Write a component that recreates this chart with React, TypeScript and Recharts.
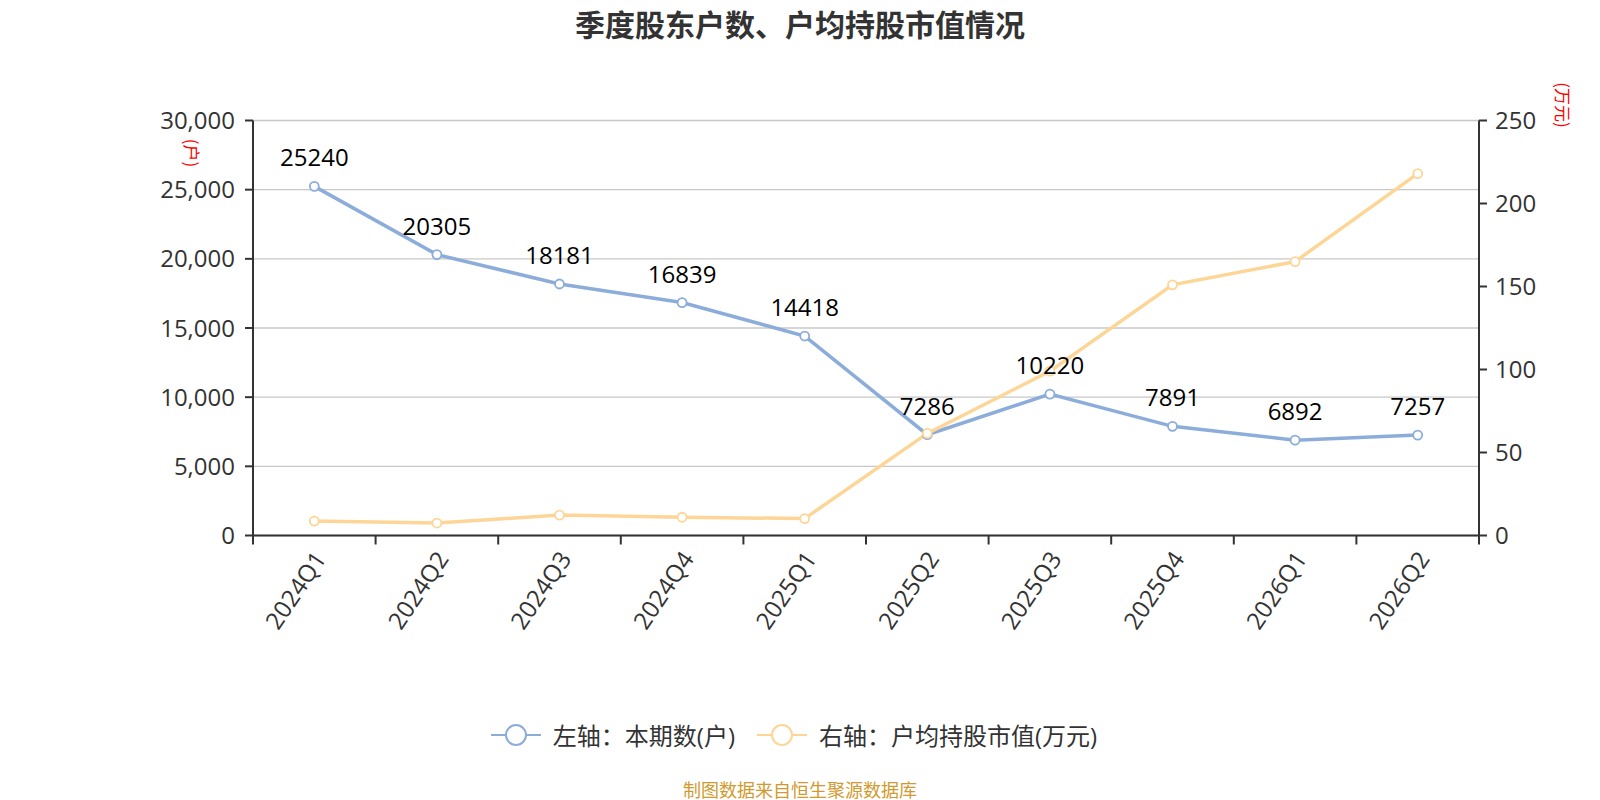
import {
  CartesianGrid,
  LabelList,
  Legend,
  Line,
  LineChart,
  XAxis,
  YAxis,
} from "recharts";

const quarters = [
  "2024Q1",
  "2024Q2",
  "2024Q3",
  "2024Q4",
  "2025Q1",
  "2025Q2",
  "2025Q3",
  "2025Q4",
  "2026Q1",
  "2026Q2",
];
const holders = [25240, 20305, 18181, 16839, 14418, 7286, 10220, 7891, 6892, 7257];
const avgValue = [8.7, 7.5, 12.3, 11.0, 10.2, 61.5, 99, 151, 165, 218];
const leftTicks = [0, 5000, 10000, 15000, 20000, 25000, 30000];
const rightTicks = [0, 50, 100, 150, 200, 250];
const seriesNames = ["左轴：本期数(户)", "右轴：户均持股市值(万元)"];

const BLUE = "#8cadda";
const ORANGE = "#fdd697";
const AXIS = "#333";
const FONT = "'Open Sans', 'Noto Sans CJK SC', sans-serif";
const CJK = "'Noto Sans CJK SC', sans-serif";

// plot box: x 253..1479, y 120.5..535.5
const PLOT_W = 1479 - 253;
const BAND = PLOT_W / quarters.length;

const data = quarters.map((q, i) => ({
  quarter: q,
  holders: holders[i],
  avgValue: avgValue[i],
}));

function QuarterTick({ x, y, payload, index }: any) {
  const axisY = y - 14;
  const half = BAND / 2;
  return (
    <g>
      <line x1={x - half} y1={axisY} x2={x - half} y2={axisY + 9} stroke={AXIS} strokeWidth={2} />
      {index === quarters.length - 1 && (
        <line x1={x + half} y1={axisY} x2={x + half} y2={axisY + 9} stroke={AXIS} strokeWidth={2} />
      )}
      <text
        x={x + 5}
        y={y + 4}
        textAnchor="end"
        dominantBaseline="central"
        transform={`rotate(-56 ${x + 5} ${y + 4})`}
        fill={AXIS}
        fontSize={24}
        fontFamily={FONT}
      >
        {payload.value}
      </text>
    </g>
  );
}

function LegendContent({ payload }: any) {
  const items = [...(payload || [])].sort(
    (a: any, b: any) => seriesNames.indexOf(a.value) - seriesNames.indexOf(b.value)
  );
  return (
    <div
      style={{
        display: "flex",
        justifyContent: "center",
        alignItems: "center",
        fontFamily: FONT,
        fontSize: 24,
        color: AXIS,
      }}
    >
      {items.map((p: any, i: number) => (
        <div
          key={p.value}
          style={{ display: "flex", alignItems: "center", marginLeft: i ? 22 : 0 }}
        >
          <svg width={50} height={26}>
            <line x1={0} y1={13} x2={50} y2={13} stroke={p.color} strokeWidth={2} />
            <circle cx={25} cy={13} r={10} fill="#fff" stroke={p.color} strokeWidth={2} />
          </svg>
          <span style={{ marginLeft: 12 }}>{p.value}</span>
        </div>
      ))}
    </div>
  );
}

function AxisName({ x, y, text }: { x: number; y: number; text: string }) {
  return (
    <text
      x={x}
      y={y}
      textAnchor="middle"
      dominantBaseline="central"
      transform={`rotate(90 ${x} ${y})`}
      fill="#ff0000"
      fontSize={17}
      fontFamily={CJK}
    >
      {text}
    </text>
  );
}

export default function App() {
  return (
    <div
      style={{
        position: "absolute",
        left: 0,
        top: 0,
        width: 1600,
        height: 800,
        background: "#fff",
      }}
    >
      <div
        style={{
          position: "absolute",
          top: 0,
          left: 0,
          width: 1600,
          textAlign: "center",
          fontFamily: CJK,
          fontWeight: 700,
          fontSize: 30,
          lineHeight: "46px",
          color: AXIS,
        }}
      >
        季度股东户数、户均持股市值情况
      </div>
      <LineChart
        width={1600}
        height={800}
        data={data}
        margin={{ top: 120.5, right: 0, bottom: 184.5, left: 0 }}
      >
        <CartesianGrid yAxisId="left" vertical={false} stroke="#c8c8c8" strokeWidth={1.3} />
        <XAxis
          dataKey="quarter"
          interval={0}
          height={80}
          padding={{ left: BAND / 2, right: BAND / 2 }}
          axisLine={{ stroke: AXIS, strokeWidth: 2 }}
          tickLine={false}
          tickSize={8}
          tickMargin={6}
          tick={<QuarterTick />}
        />
        <YAxis
          yAxisId="left"
          orientation="left"
          width={253}
          domain={[0, 30000]}
          ticks={leftTicks}
          interval={0}
          tickFormatter={(v) => v.toLocaleString("en-US")}
          tick={{ fill: AXIS, fontSize: 24, fontFamily: FONT }}
          axisLine={{ stroke: AXIS, strokeWidth: 2 }}
          tickLine={{ stroke: AXIS, strokeWidth: 2 }}
          tickSize={8}
          tickMargin={10}
          label={{ content: () => <AxisName x={192} y={153} text="(户)" /> }}
        />
        <YAxis
          yAxisId="right"
          orientation="right"
          width={121}
          domain={[0, 250]}
          ticks={rightTicks}
          interval={0}
          tick={{ fill: AXIS, fontSize: 24, fontFamily: FONT }}
          axisLine={{ stroke: AXIS, strokeWidth: 2 }}
          tickLine={{ stroke: AXIS, strokeWidth: 2 }}
          tickSize={8}
          tickMargin={8}
          label={{ content: () => <AxisName x={1563} y={105} text="(万元)" /> }}
        />
        <Legend
          verticalAlign="middle"
          align="center"
          wrapperStyle={{ top: 717, left: -6, width: 1600 }}
          content={<LegendContent />}
        />
        <Line
          yAxisId="left"
          dataKey="holders"
          name={seriesNames[0]}
          stroke={BLUE}
          strokeWidth={3.5}
          dot={{ r: 4.5, fill: "#fff", stroke: BLUE, strokeWidth: 1.8 }}
          activeDot={false}
          isAnimationActive={false}
        >
          <LabelList
            dataKey="holders"
            position="top"
            offset={20}
            fill="#000"
            fontSize={24}
            fontFamily={FONT}
          />
        </Line>
        <Line
          yAxisId="right"
          dataKey="avgValue"
          name={seriesNames[1]}
          stroke={ORANGE}
          strokeWidth={3.5}
          dot={{ r: 4.5, fill: "#fff", stroke: ORANGE, strokeWidth: 1.8 }}
          activeDot={false}
          isAnimationActive={false}
        />
      </LineChart>
      <div
        style={{
          position: "absolute",
          top: 778,
          left: 0,
          width: 1600,
          textAlign: "center",
          fontFamily: CJK,
          fontSize: 18,
          lineHeight: "22px",
          color: "#d09a30",
        }}
      >
        制图数据来自恒生聚源数据库
      </div>
    </div>
  );
}
